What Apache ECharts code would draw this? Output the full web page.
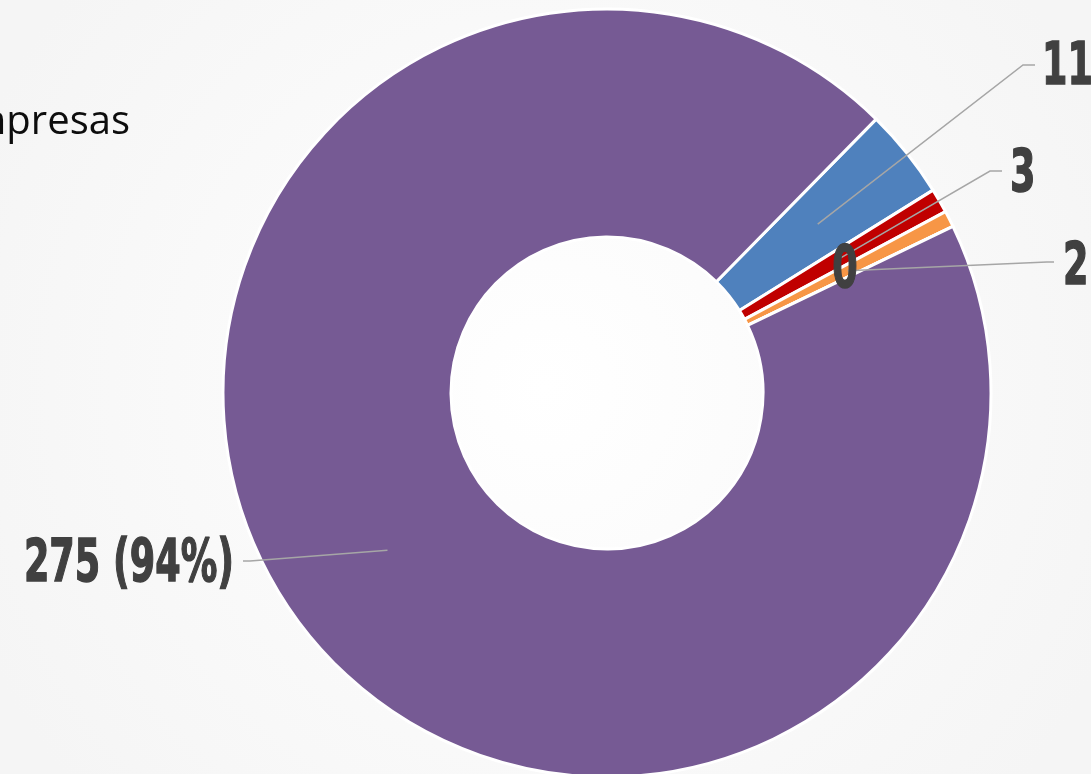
<!DOCTYPE html>
<html>
<head>
<meta charset="utf-8">
<script src="https://cdn.jsdelivr.net/npm/echarts@6/dist/echarts.min.js"></script>
<style>
  html, body { margin: 0; padding: 0; background: #ffffff; }
  #chart { width: 1091px; height: 774px; }
</style>
</head>
<body>
<div id="chart"></div>
<script>
// Company counts per group, in drawing order (clockwise from the start angle)
const categories = ['Grupo A', 'Grupo B', 'Grupo C', 'Grupo D', 'Grupo E'];
const values = [11, 3, 2, 0, 275];
const colors = ['#4F81BD', '#C00000', '#F79646', '#9BBB59', '#765A94'];
const titleText = 'Empresas';

const total = values.reduce((s, v) => s + v, 0);

// ring geometry (px)
const center = [607, 393];
const rInner = 156;
const rOuter = 384;
const startAngle = 45.5;

// middle of each slice on the ring's mid radius, where its leader line begins
function sliceAnchor(idx) {
  let before = 0;
  for (let i = 0; i < idx; i++) before += values[i];
  const mid = startAngle - (before + values[idx] / 2) / total * 360;
  const rad = mid * Math.PI / 180;
  const r = (rInner + rOuter) / 2;
  return [center[0] + r * Math.cos(rad), center[1] - r * Math.sin(rad)];
}

// label placement: text anchor, alignment and the bend / end of each leader
const labelPlacement = [
  { x: 1042, y: 69,  align: 'left',   bend: [1023, 65],  end: [1035, 65] },
  { x: 1010, y: 176, align: 'left',   bend: [990, 171],  end: [1002, 171] },
  { x: 1063, y: 269, align: 'left',   bend: [1047, 262], end: [1054, 262] },
  { x: 845,  y: 272, align: 'center', bend: null,        end: null },
  { x: 234,  y: 566, align: 'right',  bend: [250, 561],  end: [243, 561] }
];

function labelText(i) {
  if (i === values.length - 1) {
    return values[i] + ' (' + Math.floor(values[i] / total * 100) + '%)';
  }
  return String(values[i]);
}

// condensed, heavy value labels
const labelFont = 'bold 59px "DejaVu Sans", sans-serif';
const labelScaleX = 0.62;

const valueLabels = [];
values.forEach((v, i) => {
  const cfg = labelPlacement[i];
  if (cfg.end) {
    valueLabels.push({
      type: 'polyline',
      z: 100,
      silent: true,
      shape: { points: [sliceAnchor(i), cfg.bend, cfg.end] },
      style: { stroke: '#a6a6a6', lineWidth: 1.5, fill: null }
    });
  }
  valueLabels.push({
    type: 'text',
    z: 101,
    silent: true,
    x: cfg.x,
    y: cfg.y,
    scaleX: labelScaleX,
    style: {
      text: labelText(i),
      align: cfg.align,
      verticalAlign: 'middle',
      font: labelFont,
      fill: '#404040',
      stroke: '#404040',
      lineWidth: 1.5
    }
  });
});

const chart = echarts.init(document.getElementById('chart'), null, { renderer: 'canvas' });

chart.setOption({
  animation: false,
  backgroundColor: {
    type: 'radial', x: 0.5, y: 0.5, r: 0.8,
    colorStops: [
      { offset: 0, color: '#ffffff' },
      { offset: 1, color: '#f5f5f5' }
    ]
  },
  graphic: [{
    type: 'text',
    x: 130,
    y: 143,
    style: {
      text: titleText,
      align: 'right',
      verticalAlign: 'bottom',
      font: '40px "Open Sans", sans-serif',
      fill: '#0d0d0d'
    }
  }].concat(valueLabels),
  series: [{
    type: 'pie',
    center: center,
    radius: [rInner, rOuter],
    startAngle: startAngle,
    clockwise: true,
    avoidLabelOverlap: false,
    stillShowZeroSum: true,
    itemStyle: { borderColor: '#ffffff', borderWidth: 3 },
    emphasis: { disabled: true },
    label: { show: false },
    labelLine: { show: false },
    data: categories.map((name, i) => ({
      name: name,
      value: values[i],
      itemStyle: { color: colors[i] }
    }))
  }]
});
</script>
</body>
</html>
